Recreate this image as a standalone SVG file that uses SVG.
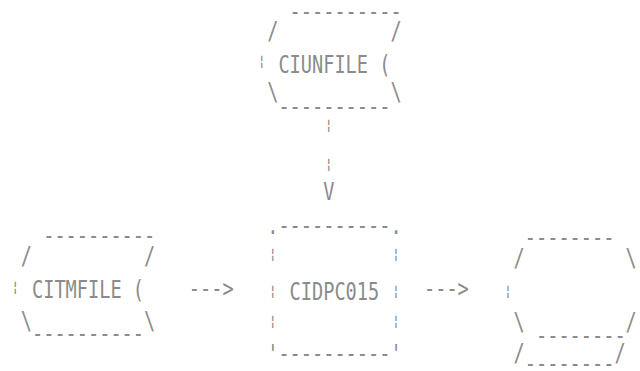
<svg xmlns="http://www.w3.org/2000/svg" width="640" height="371" viewBox="0 0 640 371">
<style>
text{font-family:"DejaVu Sans Mono","Liberation Mono",monospace;font-size:24px;fill:#8a8a8a}
text.b{font-size:14px;text-anchor:middle}
</style>
<rect width="640" height="371" fill="#ffffff"/>
<g opacity="0.99">
<g id="node-ciunfile">
<text x="289.6" y="20" textLength="112" lengthAdjust="spacingAndGlyphs">----------</text>
<text x="267.2" y="39" textLength="11.2" lengthAdjust="spacingAndGlyphs">/</text>
<text x="390.4" y="39" textLength="11.2" lengthAdjust="spacingAndGlyphs">/</text>
<text class="b" x="261.6" y="66">¦</text>
<text x="278.4" y="73" textLength="112" lengthAdjust="spacingAndGlyphs">CIUNFILE (</text>
<text x="267.2" y="100" textLength="11.2" lengthAdjust="spacingAndGlyphs">\</text>
<text x="278.4" y="114.5" textLength="112" lengthAdjust="spacingAndGlyphs">----------</text>
<text x="390.4" y="100" textLength="11.2" lengthAdjust="spacingAndGlyphs">\</text>
</g>
<g id="node-citmfile">
<text x="43.2" y="243.5" textLength="112" lengthAdjust="spacingAndGlyphs">----------</text>
<text x="20.8" y="264" textLength="11.2" lengthAdjust="spacingAndGlyphs">/</text>
<text x="144" y="264" textLength="11.2" lengthAdjust="spacingAndGlyphs">/</text>
<text class="b" x="15.2" y="292">¦</text>
<text x="32" y="298" textLength="112" lengthAdjust="spacingAndGlyphs">CITMFILE (</text>
<text x="20.8" y="329" textLength="11.2" lengthAdjust="spacingAndGlyphs">\</text>
<text x="32" y="341.5" textLength="112" lengthAdjust="spacingAndGlyphs">----------</text>
<text x="144" y="329" textLength="11.2" lengthAdjust="spacingAndGlyphs">\</text>
</g>
<g id="node-cidpc015">
<text x="267.2" y="234" textLength="134.4" lengthAdjust="spacingAndGlyphs">.----------.</text>
<text class="b" x="272.8" y="258.6">¦</text>
<text class="b" x="396" y="258.6">¦</text>
<text class="b" x="272.8" y="295.6">¦</text>
<text x="289.6" y="300" textLength="89.6" lengthAdjust="spacingAndGlyphs">CIDPC015</text>
<text class="b" x="396" y="295.6">¦</text>
<text class="b" x="272.8" y="325.6">¦</text>
<text class="b" x="396" y="325.6">¦</text>
<text x="267.2" y="362" textLength="134.4" lengthAdjust="spacingAndGlyphs">'----------'</text>
</g>
<g id="node-output">
<text x="524.8" y="245.5" textLength="89.6" lengthAdjust="spacingAndGlyphs">--------</text>
<text x="513.6" y="266" textLength="11.2" lengthAdjust="spacingAndGlyphs">/</text>
<text x="625.6" y="266" textLength="11.2" lengthAdjust="spacingAndGlyphs">\</text>
<text class="b" x="508" y="295.6">¦</text>
<text x="513.6" y="330" textLength="11.2" lengthAdjust="spacingAndGlyphs">\</text>
<text x="536" y="343.5" textLength="89.6" lengthAdjust="spacingAndGlyphs">--------</text>
<text x="625.6" y="330" textLength="11.2" lengthAdjust="spacingAndGlyphs">/</text>
<text x="513.6" y="361" textLength="11.2" lengthAdjust="spacingAndGlyphs">/</text>
<text x="524.8" y="372" textLength="89.6" lengthAdjust="spacingAndGlyphs">--------</text>
<text x="614.4" y="361" textLength="11.2" lengthAdjust="spacingAndGlyphs">/</text>
</g>
<g id="connectors">
<text class="b" x="328.8" y="129.6">¦</text>
<text class="b" x="328.8" y="168.6">¦</text>
<text x="323.2" y="200" textLength="11.2" lengthAdjust="spacingAndGlyphs">V</text>
<text x="188.8" y="296.5" textLength="44.8" lengthAdjust="spacingAndGlyphs">---&gt;</text>
<text x="424" y="296.5" textLength="44.8" lengthAdjust="spacingAndGlyphs">---&gt;</text>
</g>
</g>
</svg>
